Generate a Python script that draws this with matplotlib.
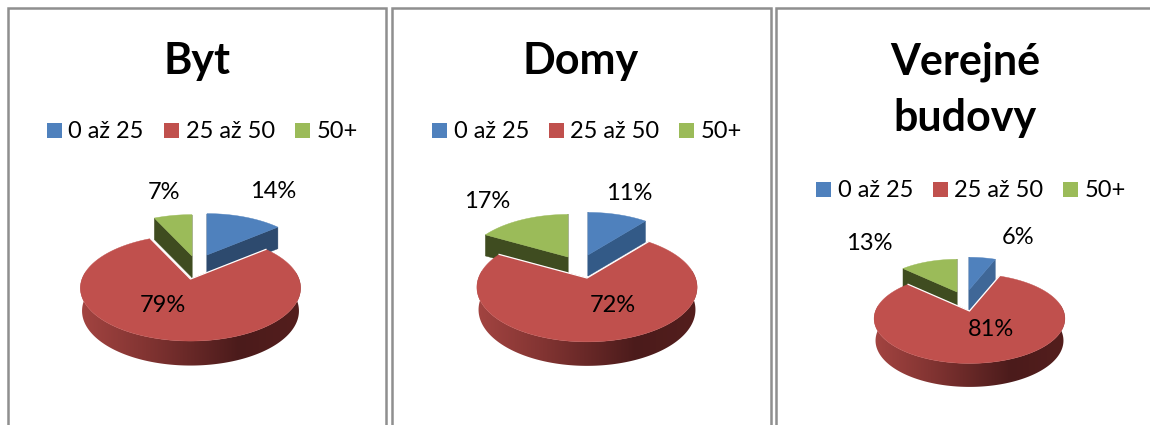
import matplotlib
matplotlib.use('Agg')
import matplotlib.pyplot as plt
import numpy as np
from matplotlib.patches import Polygon, Rectangle

plt.rcParams['font.family'] = ['Lato', 'DejaVu Sans']

# data
categories = ['0 až 25', '25 až 50', '50+']
titles = [['Byt'], ['Domy'], ['Verejné', 'budovy']]
byt = [14, 79, 7]
domy = [11, 72, 17]
verejne = [6, 81, 13]

colors = ['#4F81BD', '#C0504D', '#9BBB59']
green_side = '#3F4C20'
blue_sides = ['#2D4A6E', '#335A87', '#3F6797']

# layout, all in pixels of the 1150x425 picture
panels = [(7.5, 385.5), (391.5, 770.5), (776, 1155)]
centers = [(190.5, 279), (587, 278), (969.5, 311)]
radii = [(108.5, 51.5), (108.5, 53), (94, 43.5)]
depths = [24.5, 24, 23.5]
blue_apex = [(207, 255), (588, 255), (969, 290)]
green_apex = [(192, 256), (568, 257), (957, 292)]
blue_scale = [0.94, 0.94, 0.88]
green_scale = [0.94, 0.94, 0.88]
title_x = [197, 581, 965]
legend_y = [130, 130, 189]
legend_sq = [(47, 164, 295), (432, 549, 679), (816, 933, 1063)]
label_pos = [[(273, 191), (163, 305), (164, 192)],
             [(629, 193), (613, 305), (487, 201)],
             [(1018, 237), (991, 329), (869, 243)]]

persp = 0.17


def project(angle, rx, ry, scale=1.0):
    # angle clockwise from the top, like the original chart
    u, v = np.sin(angle), np.cos(angle)
    w = 1.0 / (1.0 + persp * v)
    return u * w * rx * scale, -v * w * ry * scale, w * scale


def side_gradient():
    stops = np.array([[163, 68, 65], [130, 52, 50], [75, 27, 27], [84, 30, 29]]) / 255
    t = np.linspace(0, 1, 256)
    rows = [np.interp(t, [0, 0.3, 0.72, 1], stops[:, i]) for i in range(3)]
    return np.dstack(rows)


def draw_slice(ax, apex, start, end, rx, ry, depth, scale, top, side):
    ang = np.linspace(start, end, 60)
    dx, dy, w = project(ang, rx, ry, scale)
    x, y = apex[0] + dx, apex[1] + dy
    d = depth * 0.88
    for i in (0, -1):
        ax.add_patch(Polygon([apex, (x[i], y[i]), (x[i], y[i] + d), (apex[0], apex[1] + d)],
                             closed=True, fc=side, ec=side, lw=0.3, zorder=2))
    pts = [apex] + list(zip(x, y))
    ax.add_patch(Polygon(pts, closed=True, fc=top, ec=top, lw=0.3, zorder=3))


def draw_big_slice(ax, apex, start, end, rx, ry, depth, top):
    ang = np.linspace(start, end, 400)
    dx, dy, w = project(ang, rx, ry)
    x, y = apex[0] + dx, apex[1] + dy
    d = depth * (0.55 + 0.45 * w / w.max())
    front = np.cos(ang) < 0.15
    # bottom rim is a touch narrower than the top face
    xb = apex[0] + dx * 0.985
    outline = list(zip(x[front], y[front])) + list(zip(xb[front][::-1], (y + d)[front][::-1]))
    clip = Polygon(outline, closed=True, transform=ax.transData, fc='none', ec='none')
    ax.add_patch(clip)
    im = ax.imshow(side_gradient(), extent=(x.min(), x.max(), (y + d).max(), y[front].min()),
                   aspect='auto', interpolation='bilinear', zorder=4)
    im.set_clip_path(clip)
    ax.add_patch(Polygon([apex] + list(zip(x, y)), closed=True, fc=top, ec=top, lw=0.3, zorder=5))
    ax.plot([x[0], apex[0], x[-1]], [y[0], apex[1], y[-1]], color='white', lw=0.9, zorder=6)


fig = plt.figure(figsize=(11.5, 4.25), dpi=100)
ax = fig.add_axes([0, 0, 1, 1])
ax.axis('off')

for n, values in enumerate([byt, domy, verejne]):
    # panel frame, open at the bottom
    left, right = panels[n]
    ax.plot([left, left, right, right], [430, 8, 8, 430], color='#8F8F8F', lw=1.8,
            solid_joinstyle='miter', zorder=1)

    for k, line in enumerate(titles[n]):
        ax.text(title_x[n], 74 + 57 * k, line, fontsize=31, fontweight='bold', color='black',
                ha='center', va='baseline', zorder=8)

    for sq, name, col in zip(legend_sq[n], categories, colors):
        ax.add_patch(Rectangle((sq, legend_y[n] - 7.5), 15, 15, fc=col, ec='none', zorder=8))
        ax.text(sq + 21.5, legend_y[n] + 8, name, fontsize=17, color='black', ha='left',
                va='baseline', zorder=8)

    # slices go clockwise from the top
    ends = np.cumsum(values) / 100 * 2 * np.pi
    starts = np.concatenate([[0], ends[:-1]])
    rx, ry = radii[n]
    draw_slice(ax, blue_apex[n], starts[0], ends[0], rx, ry, depths[n], blue_scale[n],
               colors[0], blue_sides[n])
    draw_slice(ax, green_apex[n], starts[2], ends[2], rx, ry, depths[n], green_scale[n],
               colors[2], green_side)
    draw_big_slice(ax, centers[n], starts[1], ends[1], rx, ry, depths[n], colors[1])

    for val, pos in zip(values, label_pos[n]):
        ax.text(pos[0], pos[1], '%d%%' % val, fontsize=17, color='black', ha='center',
                va='center', zorder=9)

ax.set_xlim(0, 1150)
ax.set_ylim(425, 0)
fig.savefig('out.png', dpi=100)
